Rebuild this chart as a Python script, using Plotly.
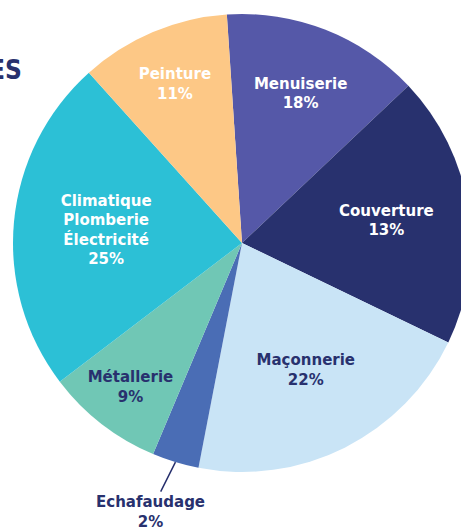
import math
import plotly.graph_objects as go

# ---- data ----
categories = ["Menuiserie", "Couverture", "Maçonnerie", "Echafaudage",
              "Métallerie", "Climatique Plomberie Électricité", "Peinture"]
# slice sizes as drawn (measured angles, %)
slice_values = [14.0, 19.2, 20.9, 3.3, 8.3, 23.7, 10.6]
# percentages printed on the chart
printed_pct = ["18%", "13%", "22%", "2%", "9%", "25%", "11%"]
label_lines = ["Menuiserie", "Couverture", "Maçonnerie", "Echafaudage",
               "Métallerie", "Climatique<br>Plomberie<br>Électricité", "Peinture"]

colors = ["#5558A8", "#28316E", "#C9E4F6", "#4A6DB5", "#70C7B5", "#2CC0D6", "#FDC886"]
navy = "#28316E"
text_colors = ["white", "white", navy, "white", navy, "white", "white"]
FONT = "DejaVu Sans"

W, H = 480, 528
cx, cy, r = 242, 243, 229
rotation = -3.8

texts = []
for name, pct, cat in zip(label_lines, printed_pct, categories):
    texts.append("" if cat == "Echafaudage" else f"{name}<br>{pct}")

fig = go.Figure(go.Pie(
    labels=categories,
    values=slice_values,
    text=texts,
    textinfo="text",
    hoverinfo="label+text",
    sort=False,
    direction="clockwise",
    rotation=rotation,
    marker=dict(colors=colors, line=dict(width=0)),
    textposition="inside",
    insidetextorientation="horizontal",
    insidetextfont=dict(family=FONT, size=15, color=text_colors, weight="bold"),
    domain=dict(x=[(cx - r) / W, (cx + r) / W], y=[1 - (cy + r) / H, 1 - (cy - r) / H]),
    showlegend=False,
))

# leader label for the small Echafaudage slice
total = sum(slice_values)
i = categories.index("Echafaudage")
mid = rotation + (sum(slice_values[:i]) + slice_values[i] / 2) / total * 360
th = math.radians(mid)
hx = cx + r * math.sin(th)
hy = cy - r * math.cos(th)
fig.add_annotation(
    x=hx / W, y=1 - hy / H, xref="paper", yref="paper",
    text=f"{label_lines[i]}<br>{printed_pct[i]}",
    showarrow=True, arrowhead=0, arrowwidth=1.5, arrowcolor=navy,
    ax=-25, ay=50, standoff=0,
    font=dict(family=FONT, size=15, color=navy, weight="bold"),
)

# cut-off title fragment at the left edge
fig.add_annotation(
    x=24 / W, y=1 - 70 / H, xref="paper", yref="paper",
    xanchor="right", yanchor="middle", showarrow=False,
    text="ES",
    font=dict(family="DejaVu Sans Condensed", size=26, color=navy, weight="bold"),
)

fig.update_layout(
    width=W, height=H,
    margin=dict(l=0, r=0, t=0, b=0),
    paper_bgcolor="white", plot_bgcolor="white",
)

fig.write_html(
    "out.html",
    config={"displayModeBar": False},
    post_script="document.body.style.margin='0';document.body.style.overflow='hidden';",
)
